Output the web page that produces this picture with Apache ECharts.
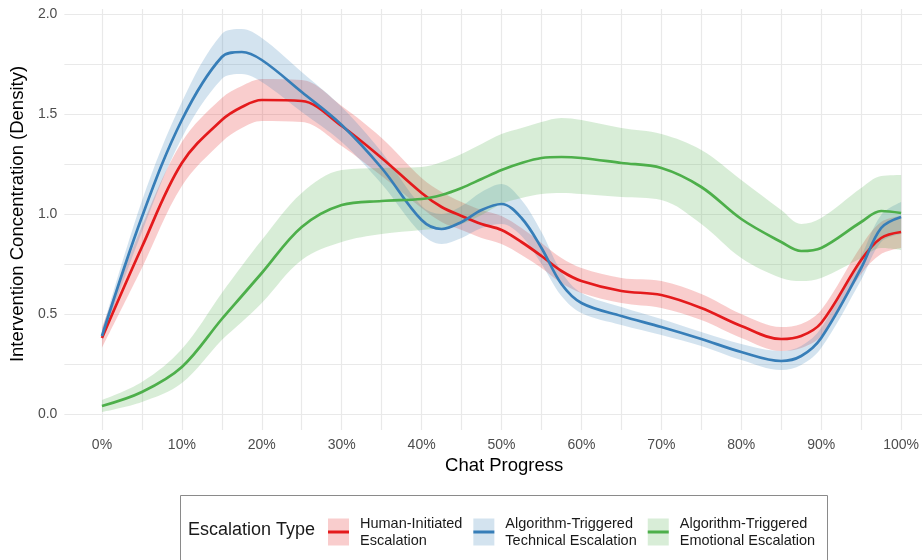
<!DOCTYPE html>
<html>
<head>
<meta charset="utf-8">
<script src="https://cdn.jsdelivr.net/npm/echarts@6/dist/echarts.min.js"></script>
<style>
  html, body { margin: 0; padding: 0; background: #fff; }
  #chart { width: 922px; height: 560px; }
</style>
</head>
<body>
<div id="chart"></div>
<script>
// chat progress in percent
const progress = [0, 5, 10, 15, 17.5, 20, 25, 30, 35, 40, 42.5, 45, 47.5, 50, 52.5, 55, 57.5, 60, 65, 70, 75, 80, 85, 87.5, 90, 95, 97.5, 100]

const humanMean = [0.38, 0.835, 1.255, 1.47, 1.535, 1.57, 1.565, 1.44, 1.28, 1.105, 1.035, 0.99, 0.95, 0.92, 0.86, 0.79, 0.715, 0.665, 0.615, 0.595, 0.53, 0.44, 0.375, 0.39, 0.455, 0.77, 0.88, 0.91]
const humanLow = [0.33, 0.73, 1.14, 1.36, 1.43, 1.465, 1.46, 1.34, 1.19, 1.03, 0.96, 0.92, 0.88, 0.85, 0.795, 0.73, 0.655, 0.605, 0.555, 0.53, 0.47, 0.38, 0.315, 0.33, 0.39, 0.70, 0.80, 0.83]
const humanHigh = [0.43, 0.94, 1.36, 1.58, 1.64, 1.675, 1.67, 1.54, 1.38, 1.18, 1.11, 1.06, 1.02, 0.99, 0.93, 0.855, 0.78, 0.73, 0.68, 0.665, 0.60, 0.50, 0.435, 0.45, 0.52, 0.84, 0.96, 0.99]

const techMean = [0.39, 0.985, 1.47, 1.785, 1.81, 1.77, 1.61, 1.445, 1.23, 0.97, 0.925, 0.96, 1.02, 1.05, 0.98, 0.83, 0.65, 0.555, 0.49, 0.435, 0.375, 0.31, 0.265, 0.29, 0.38, 0.73, 0.93, 0.985]
const techLow = [0.365, 0.91, 1.38, 1.675, 1.70, 1.66, 1.51, 1.36, 1.15, 0.90, 0.85, 0.88, 0.93, 0.95, 0.89, 0.75, 0.59, 0.505, 0.445, 0.395, 0.34, 0.27, 0.22, 0.245, 0.33, 0.67, 0.86, 0.90]
const techHigh = [0.415, 1.065, 1.56, 1.90, 1.925, 1.88, 1.71, 1.535, 1.31, 1.04, 1.00, 1.04, 1.11, 1.15, 1.07, 0.91, 0.71, 0.605, 0.535, 0.475, 0.41, 0.35, 0.315, 0.34, 0.43, 0.79, 0.995, 1.06]

const emoMean = [0.04, 0.11, 0.235, 0.475, 0.59, 0.705, 0.935, 1.045, 1.065, 1.075, 1.095, 1.13, 1.175, 1.22, 1.255, 1.28, 1.285, 1.28, 1.255, 1.23, 1.135, 0.975, 0.86, 0.815, 0.83, 0.96, 1.015, 1.005]
const emoLow = [0.01, 0.06, 0.155, 0.37, 0.46, 0.555, 0.77, 0.86, 0.90, 0.92, 0.93, 0.95, 0.995, 1.05, 1.08, 1.10, 1.105, 1.10, 1.085, 1.07, 0.95, 0.78, 0.68, 0.665, 0.68, 0.78, 0.83, 0.82]
const emoHigh = [0.07, 0.16, 0.325, 0.605, 0.74, 0.87, 1.105, 1.22, 1.23, 1.235, 1.26, 1.30, 1.35, 1.40, 1.43, 1.46, 1.48, 1.47, 1.43, 1.40, 1.32, 1.17, 1.02, 0.95, 0.98, 1.13, 1.19, 1.195]

const groups = ['Human-Initiated Escalation', 'Algorithm-Triggered Technical Escalation', 'Algorithm-Triggered Emotional Escalation']
const groupLabels = ['Human-Initiated\nEscalation', 'Algorithm-Triggered\nTechnical Escalation', 'Algorithm-Triggered\nEmotional Escalation']
const yTicks = [0, 0.5, 1, 1.5, 2]

const colors = ['#E41A1C', '#377EB8', '#4DAF4A']
const bandColors = ['rgba(228,26,28,0.22)', 'rgba(55,126,184,0.22)', 'rgba(77,175,74,0.22)']
const means = [humanMean, techMean, emoMean]
const lows = [humanLow, techLow, emoLow]
const highs = [humanHigh, techHigh, emoHigh]

const font = "'Liberation Sans', Arial, sans-serif"
const smoothness = 0.35

// rows are [y, x] so that the stack goes on the y values
function rows (ys) {
  return progress.map((p, i) => [ys[i], p / 100])
}
function gapRows (lo, hi) {
  return progress.map((p, i) => [+(hi[i] - lo[i]).toFixed(4), p / 100])
}
function labelOf (name) {
  let i = groups.indexOf(name.replace(' band', ''))
  return groupLabels[i]
}

let series = []
groups.forEach((g, i) => {
  series.push({
    name: g + ' lower', type: 'line', stack: 'band' + i, data: rows(lows[i]),
    encode: { x: 1, y: 0 },
    smooth: smoothness, symbol: 'none', silent: true, lineStyle: { opacity: 0 }
  })
  series.push({
    name: g + ' band', type: 'line', stack: 'band' + i, data: gapRows(lows[i], highs[i]),
    encode: { x: 1, y: 0 },
    smooth: smoothness, symbol: 'none', silent: true, lineStyle: { opacity: 0 },
    itemStyle: { color: bandColors[i] },
    areaStyle: { color: bandColors[i], opacity: 1 }
  })
})
groups.forEach((g, i) => {
  series.push({
    name: g, type: 'line', data: rows(means[i]),
    encode: { x: 1, y: 0 },
    smooth: smoothness, symbol: 'none', silent: true,
    itemStyle: { color: colors[i] },
    lineStyle: { color: colors[i], width: 2.7 }
  })
})

let legendBase = {
  orient: 'horizontal',
  left: 328,
  top: 515,
  padding: 0,
  itemWidth: 21,
  itemGap: 11,
  icon: 'rect',
  selectedMode: false,
  formatter: labelOf,
  textStyle: { fontFamily: font, fontSize: 14.5, lineHeight: 17, color: '#1a1a1a', padding: [0, 0, 0, 6] }
}

let option = {
  animation: false,
  backgroundColor: '#fff',
  textStyle: { fontFamily: font },
  grid: [
    { left: 62, right: 0, top: 9, bottom: 130 },
    { left: 62, right: 0, top: 14, bottom: 146 }
  ],
  xAxis: [
    {
      gridIndex: 0, type: 'value', min: -0.05, max: 1.0224, interval: 0.05,
      axisLine: { show: false }, axisTick: { show: false },
      axisLabel: {
        margin: 8, color: '#4d4d4d', fontSize: 14,
        formatter: (v) => {
          let p = Math.round(v * 100)
          return (p >= 0 && p <= 100 && p % 10 === 0) ? p + '%' : ''
        }
      },
      splitLine: { show: true, showMinLine: false, showMaxLine: false, lineStyle: { color: '#e9e9e9', width: 1.2 } }
    },
    {
      gridIndex: 1, type: 'value', min: -0.05, max: 1.0224,
      axisLine: { show: false }, axisTick: { show: false }, axisLabel: { show: false }, splitLine: { show: false },
      name: 'Chat Progress', nameLocation: 'middle', nameGap: 42,
      nameTextStyle: { fontSize: 18.5, color: '#000', fontFamily: font, padding: [0, 0, 0, 22] }
    }
  ],
  yAxis: [
    { gridIndex: 0, type: 'value', min: -0.08, max: 2.025, show: false },
    {
      gridIndex: 1, type: 'value', min: yTicks[0], max: yTicks[yTicks.length - 1], interval: 0.5,
      axisLine: { show: false }, axisTick: { show: false },
      axisLabel: { margin: 7, color: '#4d4d4d', fontSize: 14, formatter: (v) => v.toFixed(1) },
      splitLine: { show: true, lineStyle: { color: '#e9e9e9', width: 1.2 } },
      minorTick: { show: false, splitNumber: 2 },
      minorSplitLine: { show: true, lineStyle: { color: '#e9e9e9', width: 1.2 } },
      name: 'Intervention Concentration (Density)', nameLocation: 'middle', nameGap: 33,
      nameTextStyle: { fontSize: 18.5, color: '#000', fontFamily: font }
    }
  ],
  legend: [
    Object.assign({}, legendBase, { data: groups.map(g => g + ' band'), itemHeight: 27 }),
    Object.assign({}, legendBase, {
      data: groups, itemHeight: 3,
      textStyle: Object.assign({}, legendBase.textStyle, { color: 'rgba(0,0,0,0)' })
    })
  ],
  graphic: [
    {
      type: 'rect', left: 178, top: 493, silent: true,
      shape: { width: 647, height: 100 },
      style: { fill: 'none', stroke: '#8a8a8a', lineWidth: 1 }
    },
    {
      type: 'text', left: 188, top: 521, silent: true,
      style: { text: 'Escalation Type', fontSize: 18, fontFamily: font, fill: '#1a1a1a' }
    }
  ],
  series: series
}

let myChart = echarts.init(document.getElementById('chart'))
option && myChart.setOption(option)
</script>
</body>
</html>
